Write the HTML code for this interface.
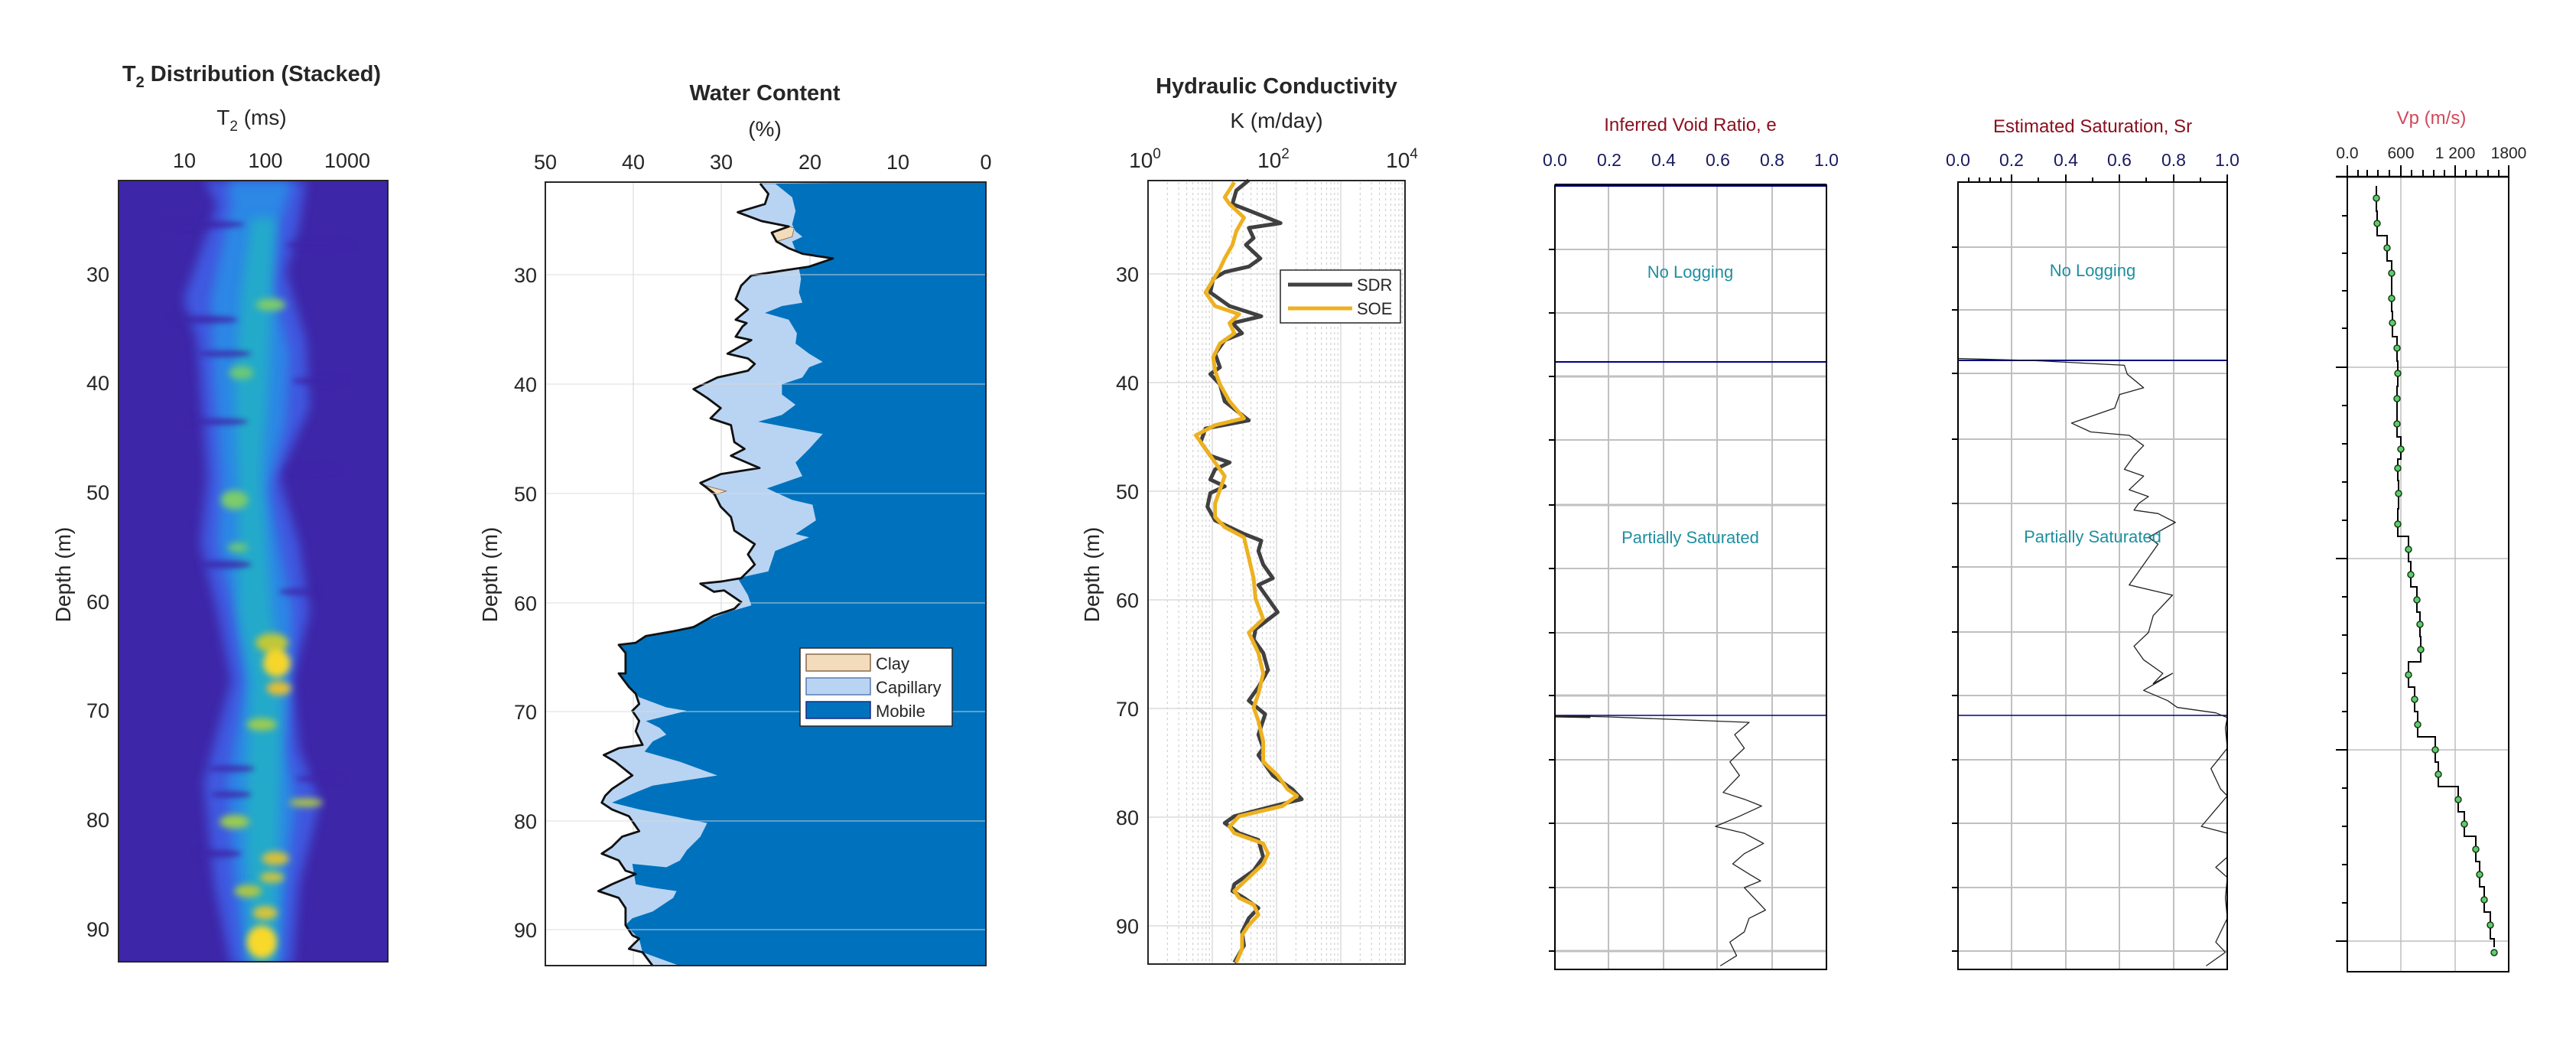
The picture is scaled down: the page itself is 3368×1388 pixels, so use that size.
<!DOCTYPE html>
<html><head><meta charset="utf-8"><style>
html,body{margin:0;padding:0;background:#fff}
svg{display:block}
text{font-family:"Liberation Sans",sans-serif;fill:#262626}
.n{font-family:"Liberation Sans Narrow","Liberation Sans",sans-serif}
</style></head><body>
<svg width="3368" height="1388" viewBox="0 0 3368 1388" xmlns="http://www.w3.org/2000/svg">
<defs>
<filter id="bl" x="-30%" y="-10%" width="160%" height="120%"><feGaussianBlur stdDeviation="8"/></filter>
<filter id="bl2" x="-50%" y="-50%" width="200%" height="200%"><feGaussianBlur stdDeviation="5"/></filter>
<filter id="bl3" x="-50%" y="-100%" width="200%" height="300%"><feGaussianBlur stdDeviation="4"/></filter>
<clipPath id="ct2"><rect x="174" y="265" width="396" height="1150"/></clipPath>
<pattern id="minor" x="1501" y="0" width="84" height="1388" patternUnits="userSpaceOnUse">
<g stroke="#c8c8c8" stroke-width="1" stroke-dasharray="3,4">
<line x1="25.3" y1="0" x2="25.3" y2="1388"/><line x1="40.1" y1="0" x2="40.1" y2="1388"/><line x1="50.6" y1="0" x2="50.6" y2="1388"/><line x1="58.7" y1="0" x2="58.7" y2="1388"/><line x1="65.4" y1="0" x2="65.4" y2="1388"/><line x1="71" y1="0" x2="71" y2="1388"/><line x1="75.9" y1="0" x2="75.9" y2="1388"/><line x1="80.2" y1="0" x2="80.2" y2="1388"/>
</g></pattern>
</defs>

<!-- ============ T2 panel ============ -->
<g transform="scale(0.889)">
<g clip-path="url(#ct2)">
<rect x="174" y="265" width="396" height="1155" fill="#3e26a8"/>
<polygon filter="url(#bl)" fill="#3f5fe6" opacity="0.9" points="300,265 450,265 440,330 420,400 450,500 455,600 410,700 440,800 455,900 430,1000 440,1100 470,1180 440,1300 430,1420 340,1420 315,1300 300,1150 340,1000 320,900 295,800 305,700 290,500 270,440 320,300"/>
<polygon filter="url(#bl)" fill="#2a8ce6" opacity="0.9" points="335,265 430,265 410,330 400,420 425,520 420,620 395,720 410,800 430,900 425,1000 420,1100 435,1180 420,1300 410,1420 360,1420 345,1300 335,1150 360,1000 345,900 320,800 325,700 315,560 310,440 340,300"/>
<polygon filter="url(#bl)" fill="#22b0c6" opacity="0.85" points="370,320 405,320 400,420 395,560 385,700 400,900 415,1000 412,1150 405,1420 368,1420 360,1200 368,1000 350,900 350,700 345,560 355,430"/>
<g filter="url(#bl3)" fill="#3e26a8" opacity="0.8">
<ellipse cx="300" cy="330" rx="60" ry="6"/><ellipse cx="470" cy="360" rx="50" ry="6"/><ellipse cx="300" cy="470" rx="50" ry="6"/><ellipse cx="330" cy="520" rx="40" ry="5"/><ellipse cx="470" cy="560" rx="40" ry="6"/><ellipse cx="320" cy="620" rx="45" ry="5"/><ellipse cx="460" cy="690" rx="40" ry="6"/><ellipse cx="330" cy="830" rx="40" ry="6"/><ellipse cx="440" cy="870" rx="30" ry="5"/><ellipse cx="340" cy="1130" rx="35" ry="5"/><ellipse cx="470" cy="1145" rx="35" ry="5"/><ellipse cx="340" cy="1168" rx="30" ry="5"/><ellipse cx="320" cy="1255" rx="35" ry="6"/>
</g>
<g filter="url(#bl2)">
<ellipse cx="398" cy="448" rx="22" ry="9" fill="#7ccc6a"/>
<ellipse cx="355" cy="548" rx="18" ry="10" fill="#6cc878"/>
<ellipse cx="345" cy="735" rx="20" ry="14" fill="#7ccc6a"/>
<ellipse cx="350" cy="805" rx="15" ry="7" fill="#6cc878"/>
<ellipse cx="400" cy="945" rx="24" ry="14" fill="#c0c838"/>
<ellipse cx="407" cy="975" rx="20" ry="20" fill="#f7d62a"/>
<ellipse cx="410" cy="1012" rx="18" ry="10" fill="#e8be30"/>
<ellipse cx="385" cy="1065" rx="22" ry="9" fill="#9ccc50"/>
<ellipse cx="450" cy="1180" rx="25" ry="6" fill="#b0c840"/>
<ellipse cx="345" cy="1208" rx="22" ry="10" fill="#9ccc50"/>
<ellipse cx="405" cy="1262" rx="20" ry="10" fill="#d8c038"/>
<ellipse cx="400" cy="1290" rx="18" ry="8" fill="#c8c440"/>
<ellipse cx="365" cy="1310" rx="20" ry="9" fill="#b0c840"/>
<ellipse cx="390" cy="1342" rx="18" ry="10" fill="#d8c438"/>
<ellipse cx="385" cy="1385" rx="22" ry="24" fill="#f8d82a"/>
</g>
</g>
</g>
<rect x="155" y="236" width="352" height="1021" fill="none" stroke="#262626" stroke-width="2"/>
<text x="329" y="106" font-size="29" font-weight="bold" text-anchor="middle">T<tspan font-size="20" dy="8">2</tspan><tspan dy="-8"> Distribution (Stacked)</tspan></text>
<text x="329" y="163" font-size="28" text-anchor="middle">T<tspan font-size="19" dy="8">2</tspan><tspan dy="-8"> (ms)</tspan></text>
<g font-size="27" text-anchor="middle"><text x="241" y="219">10</text><text x="347" y="219">100</text><text x="454" y="219">1000</text></g>
<g font-size="27" text-anchor="end"><text x="143" y="368">30</text><text x="143" y="510">40</text><text x="143" y="653">50</text><text x="143" y="796">60</text><text x="143" y="938">70</text><text x="143" y="1081">80</text><text x="143" y="1224">90</text></g>
<text transform="translate(92,751) rotate(-90)" font-size="28" text-anchor="middle">Depth (m)</text>

<!-- ============ Water content ============ -->
<g stroke="#e3e3e3" stroke-width="1.5">
<line x1="828" y1="238" x2="828" y2="1262"/><line x1="943" y1="238" x2="943" y2="1262"/><line x1="1059" y1="238" x2="1059" y2="1262"/><line x1="1174" y1="238" x2="1174" y2="1262"/>
</g>
<g transform="scale(0.889)">
<polygon fill="#b9d4f3" stroke="#5a7ab0" stroke-width="1" points="1450,268 1118,270 1130,285 1125,300 1085,312 1120,325 1160,333 1135,342 1142,355 1160,365 1180,373 1225,380 1190,392 1150,398 1105,405 1090,420 1082,440 1100,455 1082,470 1098,475 1092,480 1082,495 1105,500 1070,520 1100,527 1110,535 1100,545 1055,555 1020,572 1040,585 1060,600 1045,615 1075,625 1080,650 1095,660 1075,670 1117,688 1060,697 1030,710 1050,725 1060,745 1075,760 1080,780 1110,800 1100,815 1110,830 1090,850 1060,855 1030,858 1050,870 1065,868 1090,885 1080,895 1050,905 1020,922 990,928 950,935 935,945 910,948 920,960 920,990 910,990 925,1010 935,1020 940,1035 930,1045 940,1060 935,1075 945,1095 910,1100 888,1110 905,1120 930,1140 900,1160 890,1170 885,1180 900,1190 925,1200 940,1222 915,1230 900,1245 885,1255 910,1265 920,1280 935,1285 900,1300 880,1310 910,1320 920,1335 920,1360 930,1375 940,1380 925,1395 945,1400 960,1420 1450,1420"/>
<polygon fill="#f2dcbb" stroke="#8a6a4a" stroke-width="1" points="1160,333 1135,342 1142,355 1165,348 1168,335"/>
<polygon fill="#f2dcbb" stroke="#8a6a4a" stroke-width="1" points="1032,712 1050,728 1068,722 1045,716"/>
<polygon fill="#0072bd" points="1450,268 1140,270 1165,290 1170,310 1165,330 1170,340 1180,348 1165,355 1170,368 1200,378 1225,380 1175,395 1178,410 1175,430 1180,445 1150,450 1125,460 1160,470 1172,490 1170,505 1190,520 1210,532 1190,540 1180,555 1150,565 1150,580 1170,595 1150,610 1115,620 1210,638 1190,660 1170,680 1180,700 1128,718 1165,735 1195,742 1200,765 1170,785 1190,790 1140,810 1135,825 1130,840 1085,850 1100,875 1105,890 1070,900 1020,920 990,928 950,935 935,945 910,948 920,960 920,990 910,990 925,1010 935,1020 940,1025 980,1040 1010,1045 950,1060 970,1070 980,1080 960,1090 948,1105 1000,1120 1055,1140 960,1155 935,1165 900,1180 940,1190 1040,1210 1030,1230 1010,1250 1000,1265 980,1275 930,1270 935,1300 960,1305 995,1310 990,1320 960,1340 930,1350 920,1360 940,1380 945,1400 1000,1420 1450,1420"/>
<polyline fill="none" stroke="#111" stroke-width="3.2" stroke-linejoin="round" points="1118,270 1130,285 1125,300 1085,312 1120,325 1160,333 1135,342 1142,355 1160,365 1180,373 1225,380 1190,392 1150,398 1105,405 1090,420 1082,440 1100,455 1082,470 1098,475 1092,480 1082,495 1105,500 1070,520 1100,527 1110,535 1100,545 1055,555 1020,572 1040,585 1060,600 1045,615 1075,625 1080,650 1095,660 1075,670 1117,688 1060,697 1030,710 1050,725 1060,745 1075,760 1080,780 1110,800 1100,815 1110,830 1090,850 1060,855 1030,858 1050,870 1065,868 1090,885 1080,895 1050,905 1020,922 990,928 950,935 935,945 910,948 920,960 920,990 910,990 925,1010 935,1020 940,1035 930,1045 940,1060 935,1075 945,1095 910,1100 888,1110 905,1120 930,1140 900,1160 890,1170 885,1180 900,1190 925,1200 940,1222 915,1230 900,1245 885,1255 910,1265 920,1280 935,1285 900,1300 880,1310 910,1320 920,1335 920,1360 930,1375 940,1380 925,1395 945,1400 960,1420"/>
</g>
<g stroke="#d8d8d8" stroke-opacity="0.6" stroke-width="1.5">
<line x1="713" y1="359" x2="1289" y2="359"/><line x1="713" y1="502" x2="1289" y2="502"/><line x1="713" y1="645" x2="1289" y2="645"/><line x1="713" y1="788" x2="1289" y2="788"/><line x1="713" y1="930" x2="1289" y2="930"/><line x1="713" y1="1073" x2="1289" y2="1073"/><line x1="713" y1="1215" x2="1289" y2="1215"/>
</g>
<rect x="713" y="238" width="576" height="1024" fill="none" stroke="#262626" stroke-width="2"/>
<rect x="1046" y="847" width="199" height="102" fill="#fff" stroke="#262626" stroke-width="1.5"/>
<rect x="1054" y="855" width="84" height="22" fill="#f2dcbb" stroke="#8a6a4a" stroke-width="1.5"/>
<rect x="1054" y="886" width="84" height="22" fill="#b9d4f3" stroke="#5a7ab0" stroke-width="1.5"/>
<rect x="1054" y="917" width="84" height="22" fill="#0072bd" stroke="#1a2a80" stroke-width="1.5"/>
<g font-size="22"><text x="1145" y="875">Clay</text><text x="1145" y="906">Capillary</text><text x="1145" y="937">Mobile</text></g>
<text x="1000" y="131" font-size="29" font-weight="bold" text-anchor="middle">Water Content</text>
<text x="1000" y="178" font-size="28" text-anchor="middle">(%)</text>
<g font-size="27" text-anchor="middle"><text x="713" y="221">50</text><text x="828" y="221">40</text><text x="943" y="221">30</text><text x="1059" y="221">20</text><text x="1174" y="221">10</text><text x="1289" y="221">0</text></g>
<g font-size="27" text-anchor="end"><text x="702" y="369">30</text><text x="702" y="512">40</text><text x="702" y="655">50</text><text x="702" y="798">60</text><text x="702" y="940">70</text><text x="702" y="1083">80</text><text x="702" y="1225">90</text></g>
<text transform="translate(650,751) rotate(-90)" font-size="28" text-anchor="middle">Depth (m)</text>

<!-- ============ Hydraulic ============ -->
<rect x="1501" y="236" width="336" height="1024" fill="url(#minor)"/>
<g stroke="#dcdcdc" stroke-width="1.5">
<line x1="1585" y1="236" x2="1585" y2="1260"/><line x1="1669" y1="236" x2="1669" y2="1260"/><line x1="1753" y1="236" x2="1753" y2="1260"/>
<line x1="1501" y1="358" x2="1837" y2="358"/><line x1="1501" y1="500" x2="1837" y2="500"/><line x1="1501" y1="642" x2="1837" y2="642"/><line x1="1501" y1="784" x2="1837" y2="784"/><line x1="1501" y1="926" x2="1837" y2="926"/><line x1="1501" y1="1068" x2="1837" y2="1068"/><line x1="1501" y1="1210" x2="1837" y2="1210"/>
</g>
<g transform="translate(1400,0) scale(1.258,0.889)" fill="none" stroke-linejoin="round">
<polyline stroke="#404040" stroke-width="5" vector-effect="non-scaling-stroke" points="185,265 172,280 168,300 195,315 218,328 185,335 190,350 182,360 197,380 185,392 160,400 148,410 145,430 165,450 198,465 168,475 178,490 160,500 150,520 155,540 145,550 155,565 160,590 185,618 140,630 135,650 145,670 165,680 150,690 145,705 160,715 145,725 142,745 150,765 180,785 198,795 195,810 200,830 210,850 195,860 215,900 192,925 190,940 200,960 205,985 195,1010 185,1030 202,1050 195,1080 200,1100 195,1110 210,1140 230,1160 240,1175 225,1180 170,1200 160,1210 175,1225 195,1235 200,1260 190,1280 170,1300 168,1310 180,1320 195,1335 185,1350 178,1370 180,1390 170,1415"/>
<polyline stroke="#edb120" stroke-width="5" vector-effect="non-scaling-stroke" points="170,268 160,290 165,300 180,320 172,340 168,360 160,380 155,395 140,430 150,450 175,462 165,475 170,490 155,505 148,525 150,545 155,565 165,590 180,615 150,625 130,640 140,660 150,680 160,700 155,720 150,740 150,760 160,775 180,790 185,820 190,850 192,880 200,910 185,930 195,960 200,990 195,1020 190,1040 195,1060 200,1090 200,1120 215,1140 225,1160 235,1170 220,1185 175,1200 165,1215 170,1225 200,1240 205,1255 200,1270 185,1290 170,1310 175,1320 190,1330 195,1345 185,1360 178,1375 178,1395 172,1415"/>
</g>
<rect x="1501" y="236" width="336" height="1024" fill="none" stroke="#262626" stroke-width="2"/>
<rect x="1674" y="353" width="157" height="69" fill="#fff" stroke="#262626" stroke-width="1.5"/>
<line x1="1684" y1="372" x2="1768" y2="372" stroke="#404040" stroke-width="5"/>
<line x1="1684" y1="403" x2="1768" y2="403" stroke="#edb120" stroke-width="5"/>
<g font-size="22"><text x="1774" y="380">SDR</text><text x="1774" y="411">SOE</text></g>
<text x="1669" y="122" font-size="29" font-weight="bold" text-anchor="middle">Hydraulic Conductivity</text>
<text x="1669" y="167" font-size="28" text-anchor="middle">K (m/day)</text>
<g font-size="28" text-anchor="middle"><text x="1497" y="219">10<tspan font-size="19" dy="-12">0</tspan></text><text x="1665" y="219">10<tspan font-size="19" dy="-12">2</tspan></text><text x="1833" y="219">10<tspan font-size="19" dy="-12">4</tspan></text></g>
<g font-size="27" text-anchor="end"><text x="1489" y="368">30</text><text x="1489" y="510">40</text><text x="1489" y="652">50</text><text x="1489" y="794">60</text><text x="1489" y="936">70</text><text x="1489" y="1078">80</text><text x="1489" y="1220">90</text></g>
<text transform="translate(1437,751) rotate(-90)" font-size="28" text-anchor="middle">Depth (m)</text>

<!-- ============ Void ratio ============ -->
<g stroke="#c0c0c0" stroke-width="2">
<line x1="2033" y1="326" x2="2388" y2="326"/><line x1="2033" y1="409" x2="2388" y2="409"/><line x1="2033" y1="492" x2="2388" y2="492" stroke-width="3"/><line x1="2033" y1="575" x2="2388" y2="575"/><line x1="2033" y1="660" x2="2388" y2="660" stroke-width="3"/><line x1="2033" y1="743" x2="2388" y2="743"/><line x1="2033" y1="827" x2="2388" y2="827"/><line x1="2033" y1="909" x2="2388" y2="909" stroke-width="3"/><line x1="2033" y1="993" x2="2388" y2="993"/><line x1="2033" y1="1076" x2="2388" y2="1076"/><line x1="2033" y1="1160" x2="2388" y2="1160"/><line x1="2033" y1="1243" x2="2388" y2="1243" stroke-width="3"/>
<line x1="2103" y1="242" x2="2103" y2="1267"/><line x1="2175" y1="242" x2="2175" y2="1267"/><line x1="2245" y1="242" x2="2245" y2="1267"/><line x1="2317" y1="242" x2="2317" y2="1267"/>
</g>
<g stroke="#000080"><line x1="2033" y1="242" x2="2388" y2="242" stroke-width="4"/><line x1="2033" y1="473" x2="2388" y2="473" stroke-width="2"/><line x1="2033" y1="935" x2="2388" y2="935" stroke-width="1.5"/></g>
<g transform="translate(1400,0) scale(1.258,0.889)" fill="none" stroke="#222" stroke-width="1.3" stroke-linejoin="round">
<polyline vector-effect="non-scaling-stroke" points="503,1052 560,1054 705,1062 690,1080 700,1100 685,1120 695,1140 678,1165 700,1175 718,1185 695,1200 670,1215 700,1225 720,1240 700,1255 688,1270 705,1285 717,1295 700,1305 710,1320 722,1338 705,1350 700,1370 685,1385 692,1405 675,1420"/>
<polyline vector-effect="non-scaling-stroke" stroke-width="3" points="503,1053 540,1054"/>
</g>
<rect x="2033" y="242" width="355" height="1025" fill="none" stroke="#000" stroke-width="2"/>
<g stroke="#000" stroke-width="2"><line x1="2025" y1="326" x2="2033" y2="326"/><line x1="2025" y1="409" x2="2033" y2="409"/><line x1="2025" y1="492" x2="2033" y2="492"/><line x1="2025" y1="575" x2="2033" y2="575"/><line x1="2025" y1="660" x2="2033" y2="660"/><line x1="2025" y1="743" x2="2033" y2="743"/><line x1="2025" y1="827" x2="2033" y2="827"/><line x1="2025" y1="909" x2="2033" y2="909"/><line x1="2025" y1="993" x2="2033" y2="993"/><line x1="2025" y1="1076" x2="2033" y2="1076"/><line x1="2025" y1="1160" x2="2033" y2="1160"/><line x1="2025" y1="1243" x2="2033" y2="1243"/></g>
<text class="n" x="2210" y="171" font-size="24" text-anchor="middle" style="fill:#8b1020">Inferred Void Ratio, e</text>
<g font-size="23" text-anchor="middle"><text class="n" x="2033" y="217" style="fill:#1a1a60">0.0</text><text class="n" x="2104" y="217" style="fill:#1a1a60">0.2</text><text class="n" x="2175" y="217" style="fill:#1a1a60">0.4</text><text class="n" x="2246" y="217" style="fill:#1a1a60">0.6</text><text class="n" x="2317" y="217" style="fill:#1a1a60">0.8</text><text class="n" x="2388" y="217" style="fill:#1a1a60">1.0</text></g>
<text class="n" x="2210" y="363" font-size="22" text-anchor="middle" style="fill:#1f8fa0">No Logging</text>
<text class="n" x="2210" y="710" font-size="22" text-anchor="middle" style="fill:#1f8fa0">Partially Saturated</text>

<!-- ============ Saturation ============ -->
<g stroke="#c0c0c0" stroke-width="2">
<line x1="2560" y1="323" x2="2912" y2="323"/><line x1="2560" y1="405" x2="2912" y2="405"/><line x1="2560" y1="488" x2="2912" y2="488"/><line x1="2560" y1="574" x2="2912" y2="574"/><line x1="2560" y1="658" x2="2912" y2="658"/><line x1="2560" y1="741" x2="2912" y2="741"/><line x1="2560" y1="826" x2="2912" y2="826"/><line x1="2560" y1="909" x2="2912" y2="909"/><line x1="2560" y1="993" x2="2912" y2="993"/><line x1="2560" y1="1076" x2="2912" y2="1076"/><line x1="2560" y1="1160" x2="2912" y2="1160"/><line x1="2560" y1="1243" x2="2912" y2="1243"/>
<line x1="2630" y1="238" x2="2630" y2="1267"/><line x1="2701" y1="238" x2="2701" y2="1267"/><line x1="2771" y1="238" x2="2771" y2="1267"/><line x1="2842" y1="238" x2="2842" y2="1267"/>
</g>
<g stroke="#000080" stroke-width="2"><line x1="2560" y1="471" x2="2912" y2="471"/><line x1="2560" y1="935" x2="2912" y2="935" stroke-width="1.5"/></g>
<g transform="translate(1400,0) scale(1.258,0.889)" fill="none" stroke="#222" stroke-width="1.3" stroke-linejoin="round">
<polyline vector-effect="non-scaling-stroke" points="922,527 1000,530 1095,537 1098,550 1115,570 1090,580 1085,600 1040,622 1060,635 1100,640 1115,655 1105,670 1095,690 1115,700 1100,720 1120,730 1110,740 1105,750 1130,755 1148,768 1120,790 1130,800 1120,820 1100,860 1145,875 1125,905 1120,930 1105,950 1115,970 1135,990 1125,1005 1145,990 1115,1015 1140,1030 1150,1040 1190,1048 1202,1055 1200,1070 1202,1100 1185,1130 1195,1160 1202,1170 1190,1190 1175,1215 1202,1225 1202,1260 1190,1275 1202,1290 1200,1320 1202,1350 1190,1385 1200,1400 1180,1420"/>
</g>
<rect x="2560" y="238" width="352" height="1029" fill="none" stroke="#000" stroke-width="2"/>
<g stroke="#000" stroke-width="2"><line x1="2552" y1="323" x2="2560" y2="323"/><line x1="2552" y1="405" x2="2560" y2="405"/><line x1="2552" y1="488" x2="2560" y2="488"/><line x1="2552" y1="574" x2="2560" y2="574"/><line x1="2552" y1="658" x2="2560" y2="658"/><line x1="2552" y1="741" x2="2560" y2="741"/><line x1="2552" y1="826" x2="2560" y2="826"/><line x1="2552" y1="909" x2="2560" y2="909"/><line x1="2552" y1="993" x2="2560" y2="993"/><line x1="2552" y1="1076" x2="2560" y2="1076"/><line x1="2552" y1="1160" x2="2560" y2="1160"/><line x1="2552" y1="1243" x2="2560" y2="1243"/>
<line x1="2574" y1="232" x2="2574" y2="238"/><line x1="2588" y1="232" x2="2588" y2="238"/><line x1="2602" y1="232" x2="2602" y2="238"/><line x1="2616" y1="232" x2="2616" y2="238"/><line x1="2630" y1="228" x2="2630" y2="238"/><line x1="2665" y1="232" x2="2665" y2="238"/><line x1="2701" y1="228" x2="2701" y2="238"/><line x1="2736" y1="232" x2="2736" y2="238"/><line x1="2771" y1="228" x2="2771" y2="238"/><line x1="2806" y1="232" x2="2806" y2="238"/><line x1="2842" y1="228" x2="2842" y2="238"/><line x1="2877" y1="232" x2="2877" y2="238"/><line x1="2912" y1="228" x2="2912" y2="238"/></g>
<text class="n" x="2736" y="173" font-size="24" text-anchor="middle" style="fill:#8b1020">Estimated Saturation, Sr</text>
<g font-size="23" text-anchor="middle"><text class="n" x="2560" y="217" style="fill:#1a1a60">0.0</text><text class="n" x="2630" y="217" style="fill:#1a1a60">0.2</text><text class="n" x="2701" y="217" style="fill:#1a1a60">0.4</text><text class="n" x="2771" y="217" style="fill:#1a1a60">0.6</text><text class="n" x="2842" y="217" style="fill:#1a1a60">0.8</text><text class="n" x="2912" y="217" style="fill:#1a1a60">1.0</text></g>
<text class="n" x="2736" y="361" font-size="22" text-anchor="middle" style="fill:#1f8fa0">No Logging</text>
<text class="n" x="2736" y="709" font-size="22" text-anchor="middle" style="fill:#1f8fa0">Partially Saturated</text>

<!-- ============ Vp ============ -->
<g stroke="#bdbdbd" stroke-width="1.5">
<line x1="3069" y1="480" x2="3280" y2="480"/><line x1="3069" y1="730" x2="3280" y2="730"/><line x1="3069" y1="980" x2="3280" y2="980"/><line x1="3069" y1="1230" x2="3280" y2="1230"/>
<line x1="3139" y1="231" x2="3139" y2="1270"/><line x1="3210" y1="231" x2="3210" y2="1270"/>
</g>
<path fill="none" stroke="#000" stroke-width="2" d="M3107,243 V276 H3108 V308 H3121 V341 H3127 V407 H3128 V440 H3134 V472 H3135 V505 H3134 V571 H3139 V600 H3135 V628 H3136 V665 H3135 V701 H3149 V734 H3152 V767 H3160 V800 H3164 V832 H3165 V865 H3149 V898 H3157 V930 H3161 V963 H3184 V996 H3188 V1028 H3214 V1061 H3222 V1093 H3237 V1126 H3242 V1159 H3248 V1192 H3256 V1227 H3261 V1238"/>
<g fill="#5ccf6a" stroke="#1a3a1a" stroke-width="1.5">
<circle cx="3107" cy="259" r="4"/><circle cx="3108" cy="292" r="4"/><circle cx="3121" cy="324" r="4"/><circle cx="3127" cy="357" r="4"/><circle cx="3127" cy="390" r="4"/><circle cx="3128" cy="422" r="4"/><circle cx="3134" cy="455" r="4"/><circle cx="3135" cy="488" r="4"/><circle cx="3134" cy="521" r="4"/><circle cx="3134" cy="554" r="4"/><circle cx="3139" cy="587" r="4"/><circle cx="3135" cy="612" r="4"/><circle cx="3136" cy="645" r="4"/><circle cx="3135" cy="685" r="4"/><circle cx="3149" cy="718" r="4"/><circle cx="3152" cy="751" r="4"/><circle cx="3160" cy="784" r="4"/><circle cx="3164" cy="816" r="4"/><circle cx="3165" cy="849" r="4"/><circle cx="3149" cy="882" r="4"/><circle cx="3157" cy="914" r="4"/><circle cx="3161" cy="947" r="4"/><circle cx="3184" cy="980" r="4"/><circle cx="3188" cy="1012" r="4"/><circle cx="3214" cy="1045" r="4"/><circle cx="3222" cy="1077" r="4"/><circle cx="3237" cy="1110" r="4"/><circle cx="3242" cy="1143" r="4"/><circle cx="3248" cy="1176" r="4"/><circle cx="3256" cy="1209" r="4"/><circle cx="3261" cy="1245" r="4"/>
</g>
<rect x="3069" y="231" width="211" height="1039" fill="none" stroke="#000" stroke-width="2"/>
<line x1="3054" y1="231" x2="3280" y2="231" stroke="#000" stroke-width="2.5"/>
<g stroke="#000" stroke-width="2">
<line x1="3083" y1="222" x2="3083" y2="231"/><line x1="3095" y1="222" x2="3095" y2="231"/><line x1="3109" y1="222" x2="3109" y2="231"/><line x1="3124" y1="222" x2="3124" y2="231"/><line x1="3139" y1="216" x2="3139" y2="231"/><line x1="3153" y1="222" x2="3153" y2="231"/><line x1="3168" y1="222" x2="3168" y2="231"/><line x1="3182" y1="222" x2="3182" y2="231"/><line x1="3196" y1="222" x2="3196" y2="231"/><line x1="3210" y1="216" x2="3210" y2="231"/><line x1="3224" y1="222" x2="3224" y2="231"/><line x1="3238" y1="222" x2="3238" y2="231"/><line x1="3253" y1="222" x2="3253" y2="231"/><line x1="3267" y1="222" x2="3267" y2="231"/><line x1="3280" y1="216" x2="3280" y2="231"/><line x1="3069" y1="216" x2="3069" y2="231"/>
<line x1="3062" y1="282" x2="3069" y2="282"/><line x1="3062" y1="331" x2="3069" y2="331"/><line x1="3062" y1="380" x2="3069" y2="380"/><line x1="3062" y1="429" x2="3069" y2="429"/><line x1="3054" y1="480" x2="3069" y2="480"/><line x1="3062" y1="530" x2="3069" y2="530"/><line x1="3062" y1="580" x2="3069" y2="580"/><line x1="3062" y1="630" x2="3069" y2="630"/><line x1="3062" y1="680" x2="3069" y2="680"/><line x1="3054" y1="730" x2="3069" y2="730"/><line x1="3062" y1="780" x2="3069" y2="780"/><line x1="3062" y1="830" x2="3069" y2="830"/><line x1="3062" y1="880" x2="3069" y2="880"/><line x1="3062" y1="930" x2="3069" y2="930"/><line x1="3054" y1="980" x2="3069" y2="980"/><line x1="3062" y1="1030" x2="3069" y2="1030"/><line x1="3062" y1="1080" x2="3069" y2="1080"/><line x1="3062" y1="1130" x2="3069" y2="1130"/><line x1="3062" y1="1180" x2="3069" y2="1180"/><line x1="3054" y1="1230" x2="3069" y2="1230"/>
</g>
<text x="3179" y="162" font-size="24" text-anchor="middle" style="fill:#d0485a">Vp (m/s)</text>
<g font-size="21" text-anchor="middle"><text x="3069" y="207">0.0</text><text x="3139" y="207">600</text><text x="3210" y="207">1 200</text><text x="3280" y="207">1800</text></g>
</svg>
</body></html>
